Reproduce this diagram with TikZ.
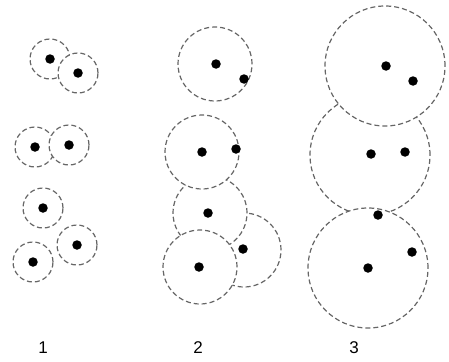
\documentclass[tikz,border=0pt]{standalone}
\usepackage{fontspec}
\setmainfont{Liberation Sans}
\usetikzlibrary{positioning}

\begin{document}
\begin{tikzpicture}[
    x=1pt, y=-1pt,
    zone/.style={
        circle, draw=black!60, fill=white,
        line width=1.2pt, dash pattern=on 5pt off 3pt,
        inner sep=0pt
    },
    small/.style={zone, minimum size=40pt},
    mid/.style={zone, minimum size=74pt},
    big/.style={zone, minimum size=120pt},
    dot/.style={
        circle, fill=black, inner sep=0pt, minimum size=9.5pt
    },
    caption/.style={
        font=\fontsize{17}{19}\selectfont, inner sep=0pt
    }
]
\useasboundingbox (0,0) rectangle (449,361);

% Column 1: small zones
\node[small] (za) at (50,59) {};
\node[small] (zb) at (78,73) {};
\node[small] (zc) at (35,147) {};
\node[small] (zd) at (69,145) {};
\node[small] (ze) at (43,208) {};
\node[small] (zf) at (77,245) {};
\node[small] (zg) at (33,262) {};
\foreach \z in {za,zb,zc,zd,ze,zf,zg}
    \node[dot] (d\z) at (\z) {};

% Column 2: medium zones
\node[mid] (mwd) at (244,250) {};
\node[mid] (mwc) at (210,213) {};
\node[mid] (mwb) at (202,152) {};
\node[mid] (mwe) at (200,267) {};
\node[mid] (mwa) at (215,64) {};
\node[dot] (m1) at (216,64) {};
\node[dot] (m2) at (244,79) {};
\node[dot] (m3) at (202,152) {};
\node[dot] (m4) at (236,149) {};
\node[dot] (m5) at (208,213) {};
\node[dot] (m6) at (243,249) {};
\node[dot] (m7) at (199,267) {};

% Column 3: large zones
\node[big] (bwb) at (370,155) {};
\node[big] (bwc) at (368,268) {};
\node[big] (bwa) at (385,66) {};
\node[dot] (b1) at (386,66) {};
\node[dot] (b2) at (413,81) {};
\node[dot] (b3) at (371,154) {};
\node[dot] (b4) at (405,152) {};
\node[dot] (b5) at (378,215) {};
\node[dot] (b6) at (412,252) {};
\node[dot] (b7) at (368,268) {};

% Captions
\node[caption] (cap1) at (43,348) {1};
\node[caption] (cap2) at (198,348) {2};
\node[caption] (cap3) at (354,348) {3};

\end{tikzpicture}
\end{document}
